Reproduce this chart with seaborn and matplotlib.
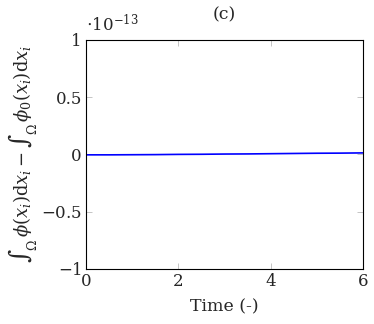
import numpy as np
import matplotlib
matplotlib.use("Agg")
import matplotlib.pyplot as plt
import seaborn as sns

# time (-) and mass-conservation error (in units of 1e-13)
time = [0.0, 0.5, 1.0, 1.5, 2.0, 2.5, 3.0, 3.5, 4.0, 4.5, 5.0, 5.5, 6.0]
err = [-0.004, -0.004, -0.003, -0.002, 0.000, 0.001, 0.003, 0.004, 0.006, 0.008, 0.010, 0.011, 0.013]
scale = 1e-13

xticks = [0, 2, 4, 6]
yticks = [-1, -0.5, 0, 0.5, 1]
ylabels = ["$-1$", "$-0.5$", "0", "0.5", "1"]

sns.set_style("ticks")
plt.rcParams["font.family"] = ["DejaVu Serif"]
plt.rcParams["mathtext.fontset"] = "dejavuserif"

fig = plt.figure(figsize=(3.74, 3.24), dpi=100)
ax = fig.add_axes([0.230, 0.170, 0.741, 0.707])

sns.lineplot(x=time, y=[v * scale for v in err], color="#0000ff", lw=1.2, ax=ax)

ax.set_xlim(0, 6)
ax.set_ylim(-1 * scale, 1 * scale)
ax.set_xticks(xticks)
ax.set_xticklabels([str(t) for t in xticks], fontsize=12)
ax.set_yticks([v * scale for v in yticks])
ax.set_yticklabels(ylabels, fontsize=12)
ax.tick_params(direction="in", length=4, width=0.6, color="#bbbbbb", top=True, right=True, pad=3)
for s in ax.spines.values():
    s.set_linewidth(0.8)
    s.set_color("black")

ax.text(0.0, 1.02, r"$\cdot10^{-13}$", transform=ax.transAxes, fontsize=12, ha="left", va="bottom")
ax.set_title("(c)", fontsize=12.5, pad=15)
ax.set_xlabel("Time (-)", fontsize=12.5, labelpad=6)
ax.set_ylabel(r"$\int_\Omega\,\phi(x_i)\mathrm{d}x_i-\int_\Omega\,\phi_0(x_i)\mathrm{d}x_i$", fontsize=13, labelpad=1)

fig.savefig("out.png", dpi=100)
